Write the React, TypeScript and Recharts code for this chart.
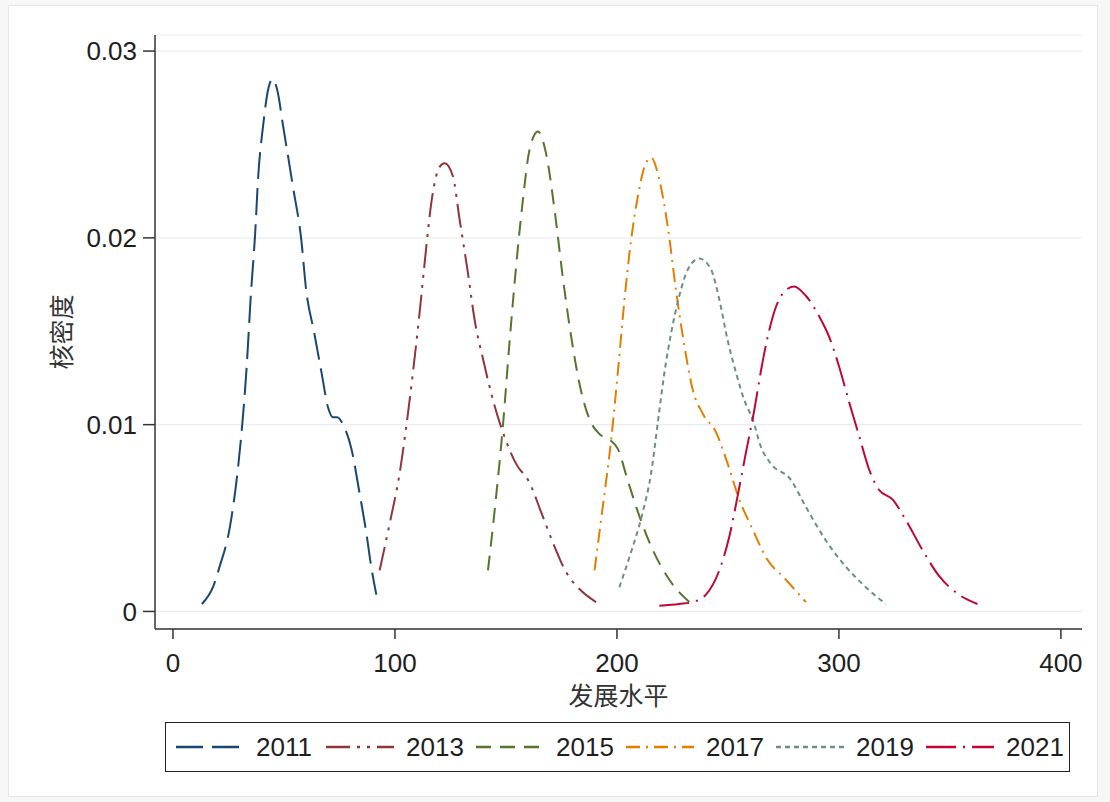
import React from 'react';
import { LineChart, Line, XAxis, YAxis, CartesianGrid } from 'recharts';

// kernel density estimates
const xs2011 = [13, 18, 21, 25.6, 29.4, 31.2, 33.2, 35, 37, 38.4, 40.6, 42.8, 44.9, 47, 49.6, 54.1, 57.8, 60, 63.5, 66.9, 69.9, 72, 74, 76.6, 80.4, 84.1, 87.1, 89.3, 91.6];
const ys2011 = [0.0004, 0.0013, 0.0024, 0.0045, 0.0078, 0.01, 0.0131, 0.0168, 0.0202, 0.0233, 0.026, 0.0279, 0.0285, 0.0279, 0.026, 0.0227, 0.0199, 0.0172, 0.015, 0.0128, 0.0109, 0.0104, 0.0104, 0.01, 0.0087, 0.0063, 0.0042, 0.0024, 0.0009];

const xs2013 = [93.1, 97.6, 102.1, 105.1, 108.1, 111.1, 114.1, 116.4, 120.1, 122.4, 126.1, 129.1, 132.9, 135.9, 139.7, 144.2, 148.6, 154.6, 160.6, 165.9, 171.1, 177.1, 183.1, 190.6];
const ys2013 = [0.0022, 0.0047, 0.0074, 0.0099, 0.0128, 0.016, 0.0195, 0.0219, 0.0238, 0.024, 0.0233, 0.021, 0.0181, 0.0156, 0.0135, 0.0113, 0.0096, 0.0079, 0.0069, 0.0053, 0.0037, 0.0021, 0.0012, 0.0005];

const xs2015 = [141.9, 144.9, 148.6, 151.6, 154.6, 157.6, 160.6, 164.4, 168.1, 171.9, 175.6, 179.4, 183.1, 187.6, 192.1, 196.6, 200.4, 204.9, 210.1, 216.1, 223.6, 232.6];
const ys2015 = [0.0022, 0.0054, 0.0099, 0.0144, 0.0185, 0.022, 0.0247, 0.0257, 0.0245, 0.0215, 0.0179, 0.0147, 0.0122, 0.0103, 0.0095, 0.0092, 0.0087, 0.007, 0.0051, 0.0033, 0.0017, 0.0005];

const xs2017 = [189.9, 193.6, 197.4, 200.4, 203.4, 206.4, 209.4, 212.4, 215.4, 219.1, 222.9, 226.6, 230.4, 234.1, 238.6, 244.6, 249.9, 255.1, 261.1, 267.1, 276.1, 285.1];
const ys2017 = [0.0022, 0.0056, 0.0092, 0.0128, 0.0167, 0.0199, 0.0222, 0.0238, 0.0243, 0.0231, 0.0206, 0.0172, 0.0142, 0.0119, 0.0106, 0.0096, 0.0079, 0.006, 0.0044, 0.0029, 0.0017, 0.0005];

const xs2019 = [201.1, 205.6, 211.6, 215.4, 218.4, 221.4, 224.4, 228.1, 231.9, 237.1, 242.4, 246.1, 249.9, 253.6, 257.4, 261.1, 264.9, 269.4, 278, 285.1, 294.1, 303.1, 312.1, 321.1];
const ys2019 = [0.0013, 0.0029, 0.0053, 0.0074, 0.0101, 0.0128, 0.0149, 0.0169, 0.0183, 0.0189, 0.0183, 0.0167, 0.0145, 0.0128, 0.0113, 0.0103, 0.0088, 0.0079, 0.0071, 0.0056, 0.0038, 0.0024, 0.0013, 0.0004];

const xs2021 = [219.1, 228.1, 234.1, 240.1, 246.1, 250.6, 254.4, 258.1, 261.9, 264.9, 267.9, 271.6, 276.1, 279.8, 285.1, 291.1, 295.6, 300.1, 304.6, 309.1, 313.6, 318.1, 324.1, 330.1, 337.6, 345.1, 354.1, 362.4];
const ys2021 = [0.0003, 0.0004, 0.0005, 0.0009, 0.0022, 0.004, 0.0062, 0.0085, 0.0108, 0.0129, 0.0147, 0.0163, 0.0172, 0.0174, 0.0169, 0.0158, 0.0147, 0.0131, 0.0112, 0.0094, 0.0076, 0.0065, 0.006, 0.0049, 0.0033, 0.0019, 0.0009, 0.0004];

const xTicks = [0, 100, 200, 300, 400];
const yTicks = [0, 0.01, 0.02, 0.03];

const zip = (xs: number[], ys: number[]) => xs.map((x, i) => ({ x, y: ys[i] }));

const series = [
  { name: '2011', data: zip(xs2011, ys2011), color: '#1a476f', dash: '27 9' },
  { name: '2013', data: zip(xs2013, ys2013), color: '#90353b', dash: '24 7 3 7 3 7' },
  { name: '2015', data: zip(xs2015, ys2015), color: '#55752f', dash: '15 9' },
  { name: '2017', data: zip(xs2017, ys2017), color: '#e37e00', dash: '14 6 2 6' },
  { name: '2019', data: zip(xs2019, ys2019), color: '#6e8e84', dash: '5 4' },
  { name: '2021', data: zip(xs2021, ys2021), color: '#c10534', dash: '30 7 2 7' },
];

const LATIN = 'Arial, "Liberation Sans", sans-serif';
const CJK = '"Noto Sans CJK SC", sans-serif';

const YTitle = ({ viewBox }: any) => {
  const cx = viewBox.x + 60;
  const cy = viewBox.y + viewBox.height / 2;
  return (
    <text
      x={cx}
      y={cy}
      transform={`rotate(-90 ${cx} ${cy})`}
      textAnchor="middle"
      dominantBaseline="central"
      fontFamily={CJK}
      fontSize={25}
      fill="#333"
    >
      核密度
    </text>
  );
};

const XTitle = ({ viewBox }: any) => (
  <text
    x={viewBox.x + viewBox.width / 2}
    y={viewBox.y + 65}
    textAnchor="middle"
    dominantBaseline="central"
    fontFamily={CJK}
    fontSize={25}
    fill="#333"
  >
    发展水平
  </text>
);

const formatY = (v: number) => (v === 0 ? '0' : v.toFixed(2));

function LegendBox() {
  return (
    <div
      style={{
        position: 'absolute',
        left: 165,
        top: 722,
        width: 905,
        height: 50,
        boxSizing: 'border-box',
        border: '1.5px solid #222',
        background: '#fff',
        overflow: 'hidden',
        display: 'flex',
        alignItems: 'center',
        paddingLeft: 10,
        whiteSpace: 'nowrap',
      }}
    >
      {series.map((s) => (
        <div key={s.name} style={{ display: 'flex', alignItems: 'center', flex: 'none', width: 150 }}>
          <svg width={68} height={10} style={{ marginRight: 12 }}>
            <line x1={0} y1={5} x2={68} y2={5} stroke={s.color} strokeWidth={2.5} strokeDasharray={s.dash} />
          </svg>
          <span style={{ fontFamily: LATIN, fontSize: 26, color: '#1e1e1e' }}>{s.name}</span>
        </div>
      ))}
    </div>
  );
}

export default function App() {
  return (
    <div style={{ position: 'absolute', left: 0, top: 0, width: 1110, height: 802, background: '#f7f7f7' }}>
      <div
        style={{
          position: 'absolute',
          left: 8,
          top: 5,
          width: 1090,
          height: 792,
          background: '#fff',
          border: '1px solid #e6e6e6',
          boxSizing: 'border-box',
        }}
      />
      <div style={{ position: 'absolute', left: 0, top: 0 }}>
        <LineChart width={1110} height={802} margin={{ top: 35, right: 28, left: 0, bottom: 133 }}>
          <CartesianGrid vertical={false} stroke="#e8eef0" strokeWidth={1.2} />
          <XAxis
            type="number"
            dataKey="x"
            domain={[-8.1, 409.5]}
            ticks={xTicks}
            allowDataOverflow
            height={40}
            tickSize={10}
            tickMargin={15}
            stroke="#333"
            strokeWidth={1.5}
            tick={{ fill: '#1e1e1e', fontSize: 26, fontFamily: LATIN }}
            label={{ content: XTitle }}
          />
          <YAxis
            type="number"
            dataKey="y"
            domain={[-0.00094, 0.03086]}
            ticks={yTicks}
            allowDataOverflow
            width={155}
            tickSize={12}
            tickMargin={6}
            tickFormatter={formatY}
            stroke="#333"
            strokeWidth={1.5}
            tick={{ fill: '#1e1e1e', fontSize: 26, fontFamily: LATIN }}
            label={{ content: YTitle }}
          />
          {series.map((s) => (
            <Line
              key={s.name}
              data={s.data}
              dataKey="y"
              name={s.name}
              type="monotone"
              stroke={s.color}
              strokeWidth={2}
              strokeDasharray={s.dash}
              dot={false}
              activeDot={false}
              isAnimationActive={false}
            />
          ))}
        </LineChart>
      </div>
      <LegendBox />
    </div>
  );
}
